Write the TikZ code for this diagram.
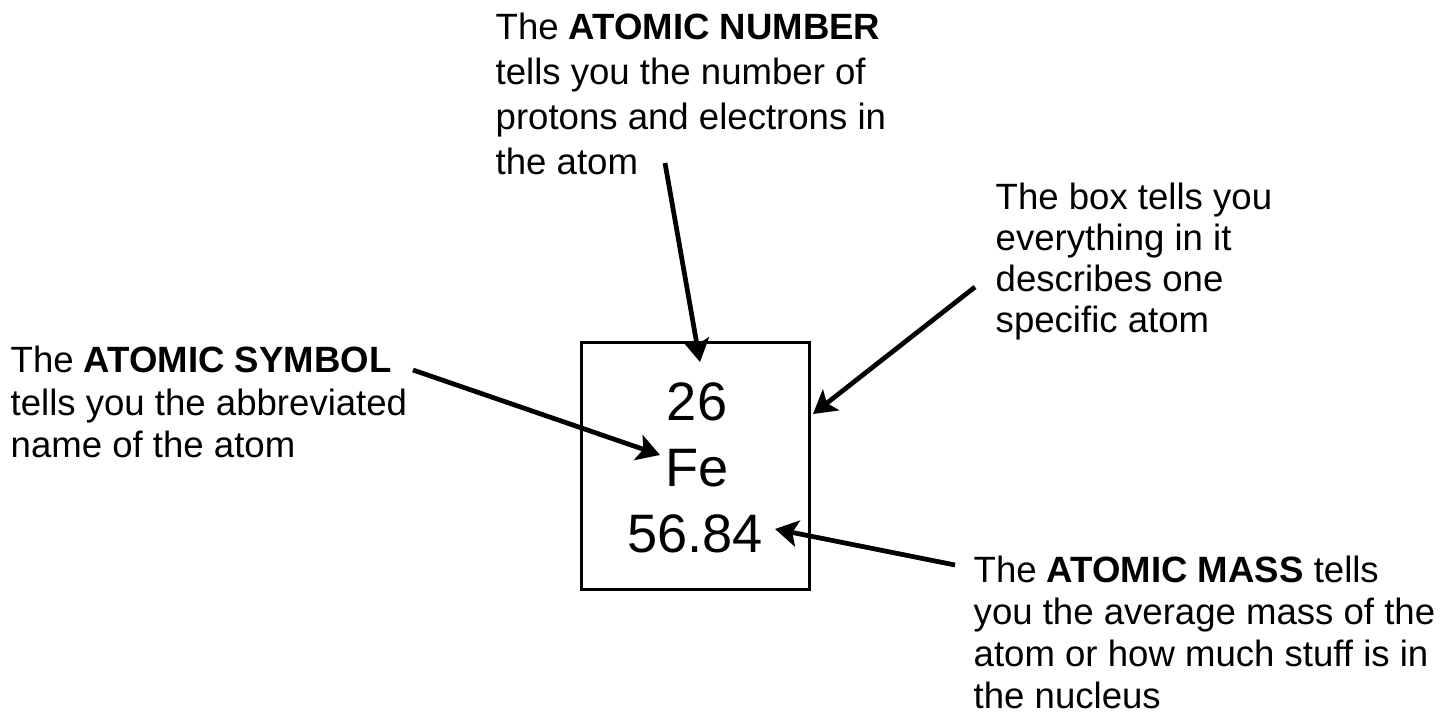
\documentclass[tikz,border=0pt]{standalone}
\usepackage{fontspec}
\setmainfont{Liberation Sans}
\usetikzlibrary{arrows.meta}

\tikzset{
  note/.style={anchor=base west, inner sep=0pt, align=left, font=\fontsize{10.4}{12.2}\selectfont},
  big/.style={anchor=base, inner sep=0pt, font=\fontsize{15.4}{18}\selectfont},
  fleche/.style={->, line width=1.35pt}
}

\begin{document}
\begin{tikzpicture}[x=0.01cm, y=-0.01cm, >={Stealth[length=6.5pt, width=7.5pt, inset=1.5pt]}]
    \useasboundingbox (0,0) rectangle (1443,719);

    % Case de l'element
    \node[draw, line width=0.85pt, minimum width=2.27cm, minimum height=2.46cm] (cell) at (695.5,466) {};
    \node[big] (z) at (697,421) {26};
    \node[big] (sym) at (697,487) {Fe};
    \node[big] (mass) at (695,553) {56.84};

    % Textes (ancre sur la derniere ligne)
    \node[note, font=\fontsize{10.4}{12.8}\selectfont] (tnum) at (495,175) {The \textbf{ATOMIC NUMBER}\\tells you the number of\\protons and electrons in\\the atom};
    \node[note] (tsym) at (10,458) {The \textbf{ATOMIC SYMBOL}\\tells you the abbreviated\\name of the atom};
    \node[note, font=\fontsize{10.4}{11.7}\selectfont] (tbox) at (995,333) {The box tells you\\everything in it\\describes one\\specific atom};
    \node[note, font=\fontsize{10.4}{11.9}\selectfont] (tmass) at (973,708) {The \textbf{ATOMIC MASS} tells\\you the average mass of the\\atom or how much stuff is in\\the nucleus};

    % Extremites des fleches
    \coordinate (numA) at (665,163);
    \coordinate (numB) at (700,362);
    \coordinate (boxA) at (975,287);
    \coordinate (boxB) at (813,414);
    \coordinate (symA) at (413,370);
    \coordinate (symB) at (660,455);
    \coordinate (massA) at (955,565);
    \coordinate (massB) at (775,529);

    % Fleches
    \draw[fleche] (numA) -- (numB);
    \draw[fleche] (boxA) -- (boxB);
    \draw[fleche] (symA) -- (symB);
    \draw[fleche] (massA) -- (massB);

\end{tikzpicture}
\end{document}
